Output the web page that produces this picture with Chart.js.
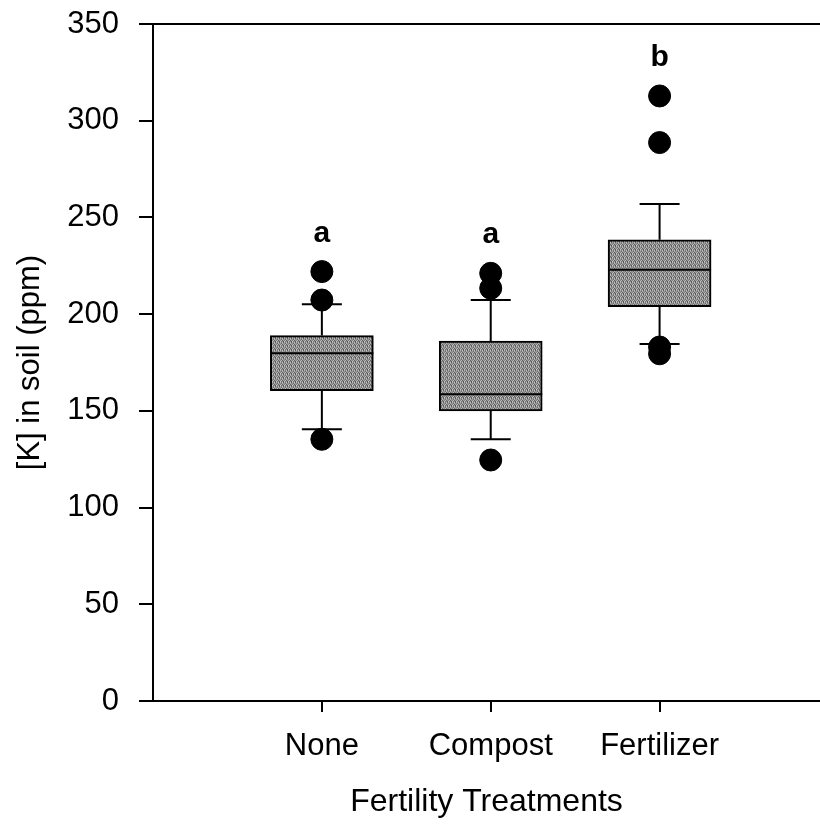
<!DOCTYPE html>
<html>
<head>
<meta charset="utf-8">
<script src="https://cdn.jsdelivr.net/npm/chart.js@4.4.0/dist/chart.umd.min.js"></script>
<style>
html, body { margin: 0; padding: 0; background: #fff; overflow: hidden; }
canvas { display: block; }
</style>
</head>
<body>
<!-- a bit wider than the window: the scatter points add 12px of padding on the right -->
<canvas id="boxChart" width="832" height="825"></canvas>
<script>
// data
var treatments = ['None', 'Compost', 'Fertilizer'];
var q1 = [160.4, 150.0, 203.9];
var median = [179.8, 158.6, 222.9];
var q3 = [188.9, 186.1, 238.4];
var whiskerLow = [140.5, 135.3, 184.6];
var whiskerHigh = [205.1, 207.3, 257.0];
var outliers = [[222.0, 207.3, 135.3], [221.1, 213.4, 124.6], [312.8, 288.7, 183.0, 179.5]];
var letters = ['a', 'a', 'b'];
var yTicks = [0, 50, 100, 150, 200, 250, 300, 350];

var fontFamily = "'Liberation Sans', Arial, Helvetica, sans-serif";

// stippled grey fill like the printed figure
function makeStipple() {
  var greys = [130, 185, 100, 155, 205, 115, 145, 85, 170, 125, 190, 95, 150, 110, 175, 140];
  var c = document.createElement('canvas');
  c.width = 4; c.height = 4;
  var g = c.getContext('2d');
  for (var i = 0; i < 16; i++) {
    var v = greys[i];
    g.fillStyle = 'rgb(' + v + ',' + v + ',' + v + ')';
    g.fillRect(i % 4, Math.floor(i / 4), 1, 1);
  }
  return g.createPattern(c, 'repeat');
}

var outlierPoints = [];
outliers.forEach(function (list, i) {
  list.forEach(function (v) { outlierPoints.push({ x: i + 1, y: v }); });
});

var boxData = treatments.map(function (t, i) {
  return { x: i + 1, y: [q1[i], q3[i]] };
});

var boxParts = {
  id: 'boxParts',
  beforeDatasetsDraw: function (chart) {
    // top frame line (right side is cut off in the figure)
    var a = chart.chartArea, ctx = chart.ctx;
    ctx.save();
    ctx.strokeStyle = '#000';
    ctx.lineWidth = 2;
    ctx.beginPath();
    ctx.moveTo(a.left, a.top);
    ctx.lineTo(a.right, a.top);
    ctx.stroke();
    ctx.restore();
  },
  afterDatasetDraw: function (chart, args) {
    if (args.index !== 1) return;
    var xs = chart.scales.x, ys = chart.scales.y, ctx = chart.ctx;
    ctx.save();
    ctx.strokeStyle = '#000';
    ctx.lineWidth = 2;
    treatments.forEach(function (t, i) {
      var cx = xs.getPixelForValue(i + 1);
      var bar = chart.getDatasetMeta(1).data[i];
      var half = bar.width / 2;
      var capHalf = 20;
      ctx.beginPath();
      // median
      ctx.moveTo(cx - half, ys.getPixelForValue(median[i]));
      ctx.lineTo(cx + half, ys.getPixelForValue(median[i]));
      // whiskers
      ctx.moveTo(cx, ys.getPixelForValue(q3[i]));
      ctx.lineTo(cx, ys.getPixelForValue(whiskerHigh[i]));
      ctx.moveTo(cx, ys.getPixelForValue(q1[i]));
      ctx.lineTo(cx, ys.getPixelForValue(whiskerLow[i]));
      // caps
      ctx.moveTo(cx - capHalf, ys.getPixelForValue(whiskerHigh[i]));
      ctx.lineTo(cx + capHalf, ys.getPixelForValue(whiskerHigh[i]));
      ctx.moveTo(cx - capHalf, ys.getPixelForValue(whiskerLow[i]));
      ctx.lineTo(cx + capHalf, ys.getPixelForValue(whiskerLow[i]));
      ctx.stroke();
    });
    ctx.restore();
  },
  afterDatasetsDraw: function (chart) {
    var xs = chart.scales.x, ys = chart.scales.y, ctx = chart.ctx;
    ctx.save();
    ctx.fillStyle = '#000';
    ctx.font = 'bold 30px ' + fontFamily;
    ctx.textAlign = 'center';
    ctx.textBaseline = 'alphabetic';
    letters.forEach(function (l, i) {
      var top = Math.max.apply(null, outliers[i].concat([whiskerHigh[i]]));
      ctx.fillText(l, xs.getPixelForValue(i + 1), ys.getPixelForValue(top) - 30);
    });
    ctx.restore();
  }
};

var ctx = document.getElementById('boxChart').getContext('2d');
var tickFont = { family: fontFamily, size: 31 };

var myChart = new Chart(ctx, {
  type: 'bar',
  data: {
    datasets: [{
      type: 'scatter',
      data: outlierPoints,
      backgroundColor: '#000',
      borderColor: '#000',
      pointRadius: 11,
      pointHoverRadius: 11
    }, {
      type: 'bar',
      data: boxData,
      backgroundColor: makeStipple(),
      borderColor: '#000',
      borderWidth: 2,
      borderSkipped: false,
      barThickness: 103
    }]
  },
  options: {
    responsive: false,
    animation: false,
    events: [],
    layout: { padding: { top: 24, right: 0, bottom: 0, left: 0 } },
    plugins: { legend: { display: false }, tooltip: { enabled: false } },
    scales: {
      x: {
        type: 'linear',
        min: 0,
        max: 3.95,
        offset: false,
        afterBuildTicks: function (s) { s.ticks = [1, 2, 3].map(function (v) { return { value: v }; }); },
        afterFit: function (s) { s.height = 124; s.paddingLeft = 0; s.paddingRight = 0; },
        border: { display: true, color: '#000', width: 2 },
        grid: { offset: false, drawOnChartArea: false, color: '#000', lineWidth: 2, tickLength: 11 },
        ticks: {
          color: '#000',
          font: tickFont,
          padding: 16,
          maxRotation: 0,
          autoSkip: false,
          callback: function (v) { return treatments[v - 1]; }
        },
        title: {
          display: true,
          text: 'Fertility Treatments',
          color: '#000',
          font: { family: fontFamily, size: 32 },
          padding: { top: 0, bottom: 4 }
        }
      },
      y: {
        min: 0,
        max: 350,
        afterBuildTicks: function (s) { s.ticks = yTicks.map(function (v) { return { value: v }; }); },
        afterFit: function (s) { s.width = 153; s.paddingTop = 0; s.paddingBottom = 0; },
        border: { display: true, color: '#000', width: 2 },
        grid: { drawOnChartArea: false, color: '#000', lineWidth: 2, tickLength: 14 },
        ticks: { color: '#000', font: tickFont, padding: 20 },
        title: {
          display: true,
          text: '[K] in soil (ppm)',
          color: '#000',
          font: tickFont,
          padding: { top: 12, bottom: 0 }
        }
      }
    }
  },
  plugins: [boxParts]
});
</script>
</body>
</html>
